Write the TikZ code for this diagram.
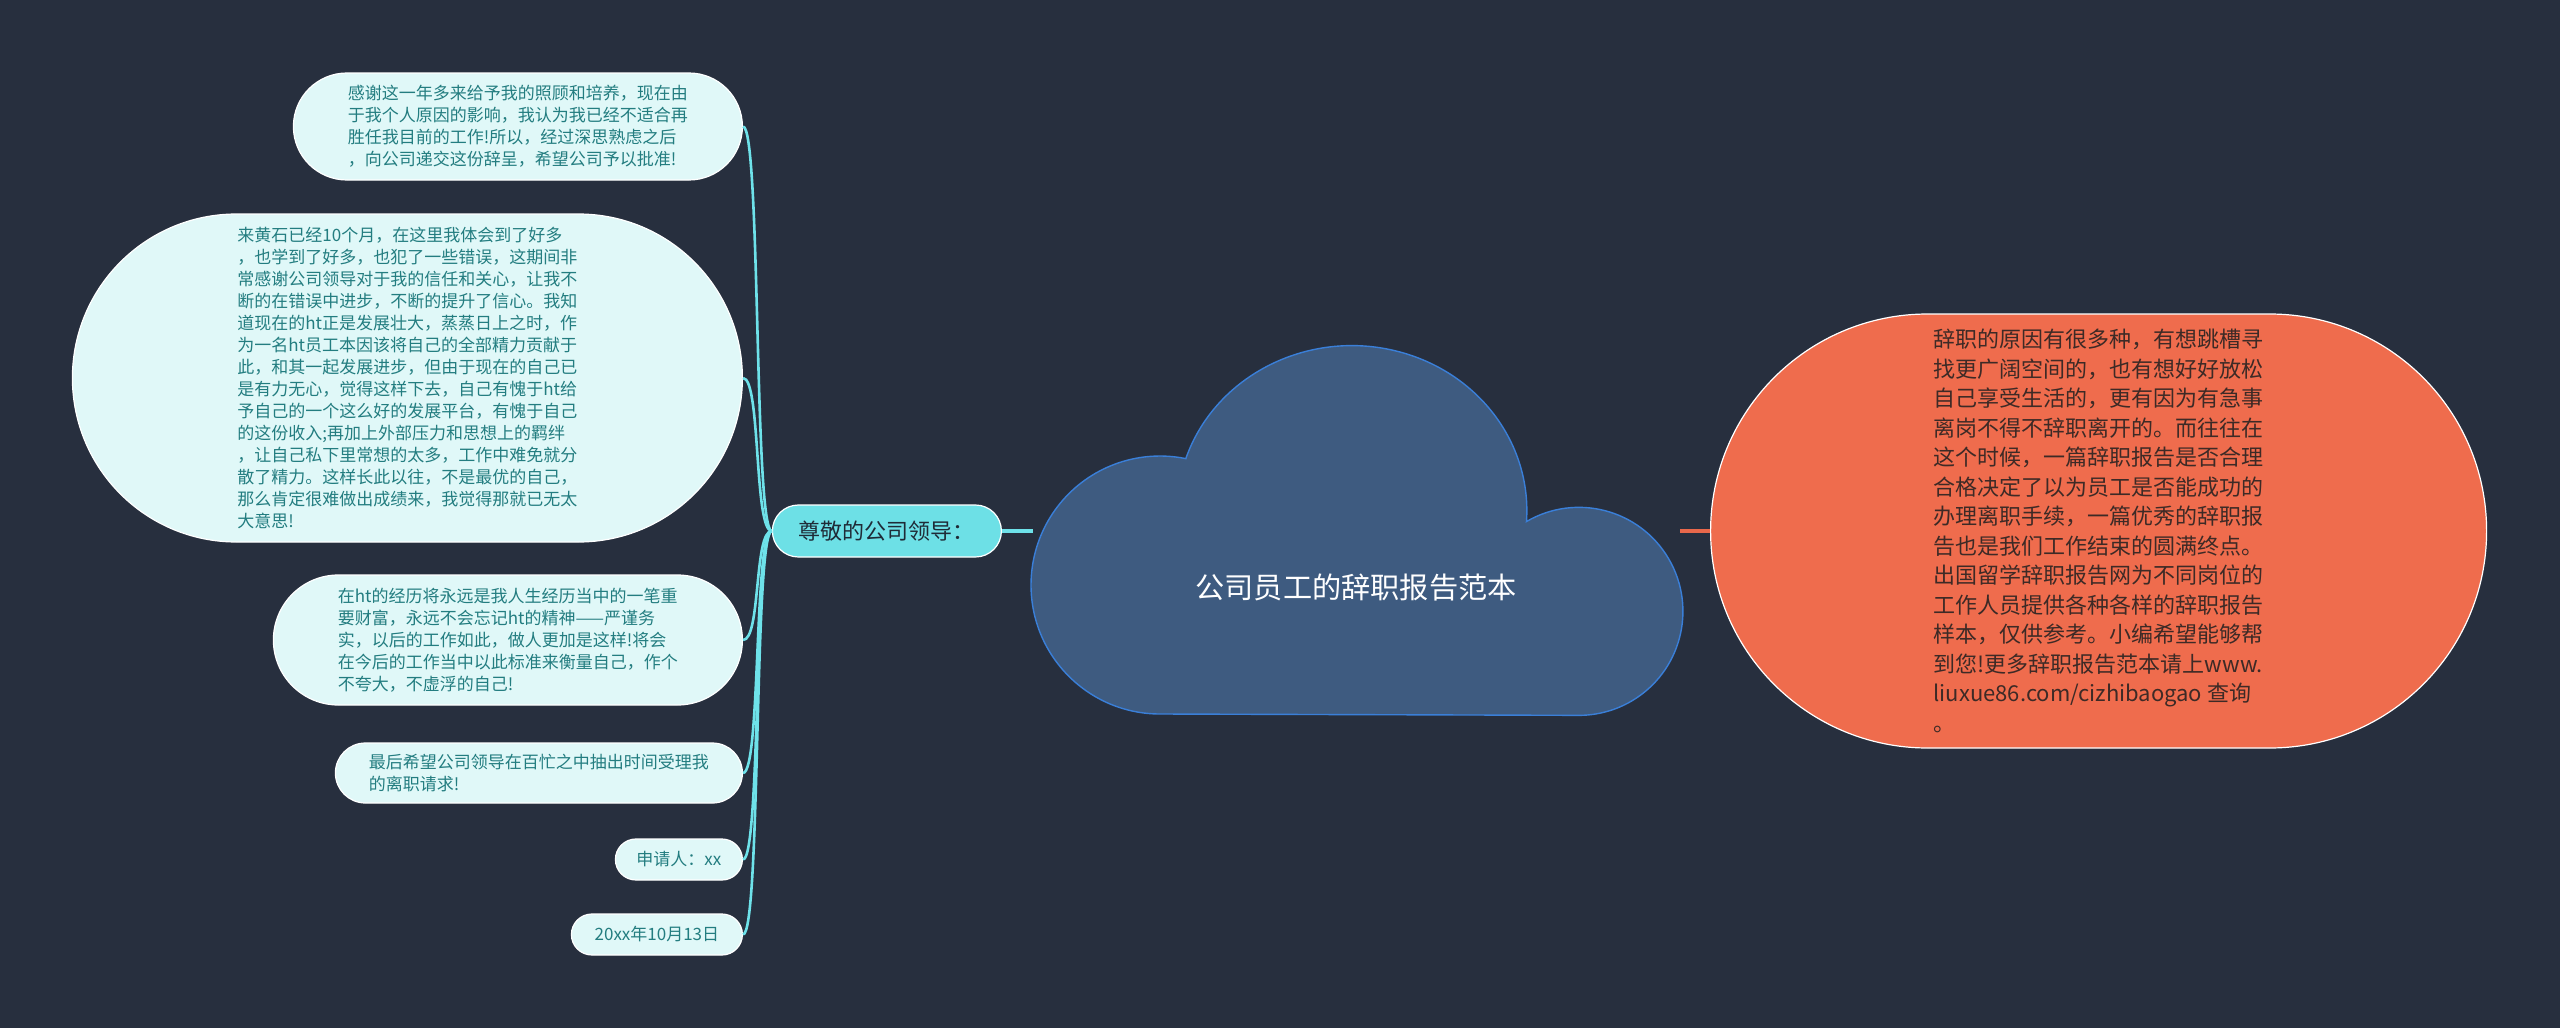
\documentclass[tikz,border=0pt]{standalone}
\usepackage{fontspec}
\setmainfont{Noto Sans CJK SC}
\usetikzlibrary{shapes.misc, positioning}

\definecolor{bgnavy}{HTML}{272F3E}
\definecolor{leaffill}{HTML}{E0F8F8}
\definecolor{leaftext}{HTML}{237D80}
\definecolor{branchfill}{HTML}{6DE0E6}
\definecolor{branchtext}{HTML}{1F2B37}
\definecolor{cloudfill}{HTML}{3E5B80}
\definecolor{cloudline}{HTML}{3A7FD8}
\definecolor{notefill}{HTML}{EF6C4D}
\definecolor{notetext}{HTML}{3D2A26}
\definecolor{linkcyan}{HTML}{6EE2EA}
\definecolor{linkred}{HTML}{E9684B}

\begin{document}
\begin{tikzpicture}[
  x=0.5pt, y=-0.5pt,
  leaf/.style={rounded rectangle, draw=white, line width=0.6pt, fill=leaffill, text=leaftext, inner xsep=0pt, inner ysep=0pt, align=left, anchor=east, font=\fontsize{8.5pt}{11pt}\selectfont},
  branch/.style={rounded rectangle, draw=white, line width=0.6pt, fill=branchfill, text=branchtext, inner xsep=0pt, minimum height=26pt, minimum width=114.5pt, font=\fontsize{11pt}{13pt}\selectfont},
  note/.style={rounded rectangle, draw=white, line width=0.6pt, fill=notefill, text=notetext, inner xsep=0pt, minimum height=217pt, minimum width=388pt, align=left, font=\fontsize{11pt}{14.75pt}\selectfont},
  link/.style={draw=linkcyan, line width=1.3pt}
]

  % 背景
  \fill[bgnavy] (0,0) rectangle (2560,1028);
  \useasboundingbox (0,0) rectangle (2560,1028);

  % 中心云朵
  \draw[fill=cloudfill, draw=cloudline, line width=0.7pt]
    (1186,458) arc[start angle=-161.4, end angle=3.8, x radius=175, y radius=165]
    arc[start angle=-120.3, end angle=90, radius=104]
    -- (1160,714)
    arc[start angle=90, end angle=281.6, radius=129] -- cycle;
  \coordinate (cloudW) at (1033,531);
  \coordinate (cloudE) at (1680,531);
  \node[text=white, font=\fontsize{14.6pt}{16pt}\selectfont] (title) at (1356,587) {公司员工的辞职报告范本};

  % 主分支
  \node[branch, left=15.5pt of cloudW] (lead) {尊敬的公司领导：};
  \node[note, right=15pt of cloudE] (reason) {辞职的原因有很多种，有想跳槽寻\\找更广阔空间的，也有想好好放松\\自己享受生活的，更有因为有急事\\离岗不得不辞职离开的。而往往在\\这个时候，一篇辞职报告是否合理\\合格决定了以为员工是否能成功的\\办理离职手续，一篇优秀的辞职报\\告也是我们工作结束的圆满终点。\\出国留学辞职报告网为不同岗位的\\工作人员提供各种各样的辞职报告\\样本，仅供参考。小编希望能够帮\\到您!更多辞职报告范本请上www.\\liuxue86.com/cizhibaogao 查询\\。};

  % 左侧子节点
  \node[leaf, minimum height=53.5pt, minimum width=224.5pt] (thanks) at (743,126.5) {感谢这一年多来给予我的照顾和培养，现在由\\于我个人原因的影响，我认为我已经不适合再\\胜任我目前的工作!所以，经过深思熟虑之后\\，向公司递交这份辞呈，希望公司予以批准!};
  \node[leaf, minimum height=164pt, minimum width=335pt] (review) at (743,378) {来黄石已经10个月，在这里我体会到了好多\\，也学到了好多，也犯了一些错误，这期间非\\常感谢公司领导对于我的信任和关心，让我不\\断的在错误中进步，不断的提升了信心。我知\\道现在的ht正是发展壮大，蒸蒸日上之时，作\\为一名ht员工本因该将自己的全部精力贡献于\\此，和其一起发展进步，但由于现在的自己已\\是有力无心，觉得这样下去，自己有愧于ht给\\予自己的一个这么好的发展平台，有愧于自己\\的这份收入;再加上外部压力和思想上的羁绊\\，让自己私下里常想的太多，工作中难免就分\\散了精力。这样长此以往，不是最优的自己，\\那么肯定很难做出成绩来，我觉得那就已无太\\大意思!};
  \node[leaf, minimum height=65pt, minimum width=234.5pt] (memory) at (743,640) {在ht的经历将永远是我人生经历当中的一笔重\\要财富，永远不会忘记ht的精神——严谨务\\实，以后的工作如此，做人更加是这样!将会\\在今后的工作当中以此标准来衡量自己，作个\\不夸大，不虚浮的自己!};
  \node[leaf, minimum height=30pt, minimum width=203.5pt] (request) at (743,773) {最后希望公司领导在百忙之中抽出时间受理我\\的离职请求!};
  \node[leaf, minimum height=20.5pt, minimum width=63.5pt] (signer) at (743,859.5) {申请人：xx};
  \node[leaf, minimum height=20.5pt, minimum width=85.5pt] (date) at (743,934.5) {20xx年10月13日};

  % 连线
  \draw[link, line width=2pt] (lead.east) -- (cloudW);
  \draw[draw=linkred, line width=2pt] (cloudE) -- (reason.west);
  \foreach \leafname in {thanks, review, memory, request, signer, date}
    \draw[link] (lead.west) .. controls +(-18,0) and +(18,0) .. (\leafname.east);

\end{tikzpicture}
\end{document}
